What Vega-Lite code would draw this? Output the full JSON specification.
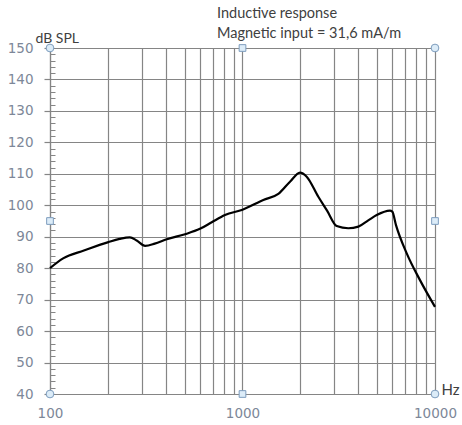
{
  "$schema": "https://vega.github.io/schema/vega-lite/v6.json",
  "width": 385,
  "height": 346,
  "autosize": {"type": "none"},
  "padding": {"left": 50, "top": 48, "right": 27, "bottom": 31},
  "background": "white",
  "title": {
    "text": ["Inductive response", "Magnetic input =  31,6 mA/m"],
    "anchor": "start",
    "frame": "group",
    "dx": 167,
    "offset": -10,
    "fontSize": 14.5,
    "fontWeight": "normal",
    "font": "Lato",
    "color": "#404040",
    "lineHeight": 20
  },
  "config": {
    "view": {"stroke": null},
    "axis": {"labelFont": "DejaVu Sans", "titleFont": "Lato"}
  },
  "resolve": {"axis": {"y": "independent"}},
  "layer": [
    {
      "data": {"values": [
        {"f": 100, "db": 80},
        {"f": 117, "db": 83.1},
        {"f": 150, "db": 85.6},
        {"f": 201, "db": 88.3},
        {"f": 230, "db": 89.3},
        {"f": 260, "db": 89.8},
        {"f": 282, "db": 88.8},
        {"f": 312, "db": 87.1},
        {"f": 350, "db": 87.8},
        {"f": 404, "db": 89.2},
        {"f": 503, "db": 90.8},
        {"f": 601, "db": 92.5},
        {"f": 692, "db": 94.6},
        {"f": 811, "db": 96.9},
        {"f": 1000, "db": 98.6},
        {"f": 1283, "db": 101.7},
        {"f": 1535, "db": 103.6},
        {"f": 1765, "db": 107.5},
        {"f": 1990, "db": 110.4},
        {"f": 2155, "db": 109.1},
        {"f": 2477, "db": 102.7},
        {"f": 2750, "db": 98.3},
        {"f": 3086, "db": 93.4},
        {"f": 3546, "db": 92.7},
        {"f": 3998, "db": 93.2},
        {"f": 4500, "db": 95.2},
        {"f": 4979, "db": 96.9},
        {"f": 5836, "db": 98.3},
        {"f": 6000, "db": 98.0},
        {"f": 6271, "db": 93.7},
        {"f": 7130, "db": 84.7},
        {"f": 8357, "db": 76.2},
        {"f": 10000, "db": 67.7}
      ]},
      "mark": {"type": "line", "color": "black", "strokeWidth": 2.2, "interpolate": "monotone"},
      "encoding": {
        "x": {
          "field": "f", "type": "quantitative",
          "scale": {"type": "log", "domain": [100, 10000], "nice": false},
          "axis": {
            "values": [100,200,300,400,500,600,700,800,900,1000,2000,3000,4000,5000,6000,7000,8000,9000,10000],
            "labelExpr": "(datum.value == 100 || datum.value == 1000 || datum.value == 10000) ? format(datum.value, 'd') : ''",
            "grid": true, "gridColor": "#858585", "gridWidth": 1.2, "gridOpacity": 1,
            "ticks": false, "domainColor": "#858585", "domainWidth": 1.2,
            "labelColor": "#7d8798", "labelFontSize": 13.5, "labelPadding": 12,
            "labelFlush": false,
            "title": "Hz", "titleFontSize": 15, "titleFontWeight": "normal", "titleColor": "#404040",
            "titleAnchor": "end", "titleAlign": "left", "titleBaseline": "middle", "titleX": 391, "titleY": -5
          }
        },
        "y": {
          "field": "db", "type": "quantitative",
          "scale": {"domain": [40, 150], "nice": false, "zero": false},
          "axis": {
            "values": [40,50,60,70,80,90,100,110,120,130,140,150],
            "grid": true, "gridColor": "#858585", "gridWidth": 1.2, "gridOpacity": 1,
            "ticks": true, "tickSize": 6, "tickColor": "#858585", "tickWidth": 1.2,
            "domainColor": "#858585", "domainWidth": 1.2,
            "labelColor": "#7d8798", "labelFontSize": 13.5, "labelPadding": 11,
            "labelFlush": false,
            "title": "dB SPL", "titleAngle": 0, "titleFontSize": 14, "titleFontWeight": "normal", "titleColor": "#404040",
            "titleAlign": "left", "titleBaseline": "middle", "titleX": -15, "titleY": -10,
            "orient": "left"
          }
        }
      }
    },
    {
      "data": {"values": [{"f": 100, "db": 40}]},
      "mark": {"type": "point", "opacity": 0},
      "encoding": {
        "x": {"field": "f", "type": "quantitative"},
        "y": {
          "field": "db", "type": "quantitative",
          "axis": {
            "orient": "left",
            "values": [42,44,46,48,52,54,56,58,62,64,66,68,72,74,76,78,82,84,86,88,92,94,96,98,102,104,106,108,112,114,116,118,122,124,126,128,132,134,136,138,142,144,146,148],
            "labels": false, "grid": false, "domain": false, "title": null,
            "ticks": true, "tickSize": -5, "tickColor": "#858585", "tickWidth": 1
          }
        }
      }
    },
    {
      "data": {"values": [
        {"f": 100, "db": 150}, {"f": 10000, "db": 150}, {"f": 100, "db": 40}, {"f": 10000, "db": 40}
      ]},
      "mark": {"type": "point", "shape": "circle", "filled": true, "size": 60, "fill": "#dcecf8", "stroke": "#7d9cbd", "strokeWidth": 1, "opacity": 1},
      "encoding": {
        "x": {"field": "f", "type": "quantitative"},
        "y": {"field": "db", "type": "quantitative", "axis": null}
      }
    },
    {
      "data": {"values": [
        {"f": 1000, "db": 150}, {"f": 1000, "db": 40}, {"f": 100, "db": 95}, {"f": 10000, "db": 95}
      ]},
      "mark": {"type": "point", "shape": "square", "filled": true, "size": 45, "fill": "#dcecf8", "stroke": "#7d9cbd", "strokeWidth": 1, "opacity": 1},
      "encoding": {
        "x": {"field": "f", "type": "quantitative"},
        "y": {"field": "db", "type": "quantitative", "axis": null}
      }
    }
  ]
}
